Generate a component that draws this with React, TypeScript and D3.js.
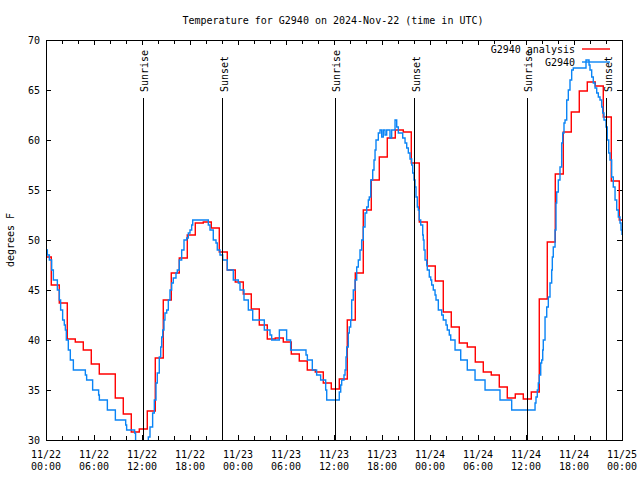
import React from "react";
import * as d3 from "d3";

const titleText = "Temperature for G2940 on 2024-Nov-22 (time in UTC)";
const yAxisLabel = "degrees F";
const redName = "G2940 analysis";
const blueName = "G2940";

// x axis: hours since 11/22 00:00 UTC
const xTickHours = [0, 6, 12, 18, 24, 30, 36, 42, 48, 54, 60, 66, 72];
const xTickDates = ["11/22", "11/22", "11/22", "11/22", "11/23", "11/23", "11/23", "11/23", "11/24", "11/24", "11/24", "11/24", "11/25"];
const xTickTimes = ["00:00", "06:00", "12:00", "18:00", "00:00", "06:00", "12:00", "18:00", "00:00", "06:00", "12:00", "18:00", "00:00"];
const yTickValues = [30, 35, 40, 45, 50, 55, 60, 65, 70];

const sunriseHours = [12.13, 36.13, 60.13];
const sunsetHours = [22.1, 46.1, 70.1];

// analysis: hourly values, each step starts at (index + redStepOffset) hours
const redStepOffset = -0.34;
const redHourly = [
  48.3, 45.5, 43.7, 40.1, 39.8, 39.0, 37.6, 36.6, 36.6, 34.2, 32.6, 30.8,
  31.1, 32.9, 38.2, 44.0, 46.7, 48.2, 50.5, 51.7, 51.8, 51.2, 48.8, 47.0,
  45.8, 44.6, 43.1, 41.5, 40.1, 40.2, 39.8, 38.6, 37.9, 37.0, 36.8, 35.7,
  35.1, 36.1, 42.0, 46.7, 53.0, 56.0, 58.3, 60.2, 61.0, 60.8, 57.7, 51.8,
  47.4, 45.9, 42.8, 41.3, 39.7, 39.3, 37.8, 36.8, 36.5, 35.3, 34.2, 34.6,
  34.1, 34.8, 44.1, 49.8, 56.6, 60.8, 62.8, 64.9, 65.8, 65.4, 62.3, 55.9,
  52.0,
];

// observations: [hour, temperature] step points
const blueObs: [number, number][] = [
  [0, 49], [0.17, 48.5], [0.42, 48], [0.71, 47], [0.92, 46], [1.42, 45], [1.67, 44], [1.83, 43],
  [2.08, 42], [2.29, 41.5], [2.42, 41], [2.54, 40], [2.79, 39], [3.04, 38], [3.42, 37], [4.92, 36.5],
  [5.08, 36], [5.83, 35], [6.58, 34.5], [6.67, 34], [7.67, 33], [8.67, 32], [9.96, 31.5], [10.08, 31],
  [11.08, 30.7], [11.2, 29.5],
  [12.79, 30.3], [13.0, 31.3], [13.33, 32.7], [13.54, 34], [13.75, 35.7], [13.91, 36.7], [14.16, 38.3],
  [14.34, 39.3], [14.46, 40.3], [14.59, 41], [14.75, 42], [14.87, 42.7], [15.09, 43], [15.29, 44],
  [15.5, 45], [15.71, 45.7], [15.91, 46.2], [16.25, 46.7], [16.41, 47], [16.66, 48], [16.96, 49],
  [17.25, 50], [17.59, 50.2], [17.79, 50.7], [18.0, 51], [18.21, 51.5], [18.34, 52], [20.29, 51.5],
  [20.5, 51], [20.91, 50], [21.25, 49.7], [21.41, 49], [21.75, 48.5], [22.09, 48], [22.66, 47], [23.41, 46],
  [24.04, 45.7], [24.25, 45], [24.75, 44], [25.29, 43], [25.84, 42], [27.29, 41], [28.0, 40.5], [28.21, 40],
  [29.17, 41], [30.08, 40], [30.58, 39], [32.5, 38.5], [32.67, 38], [33.29, 37], [33.83, 36.5], [34.33, 36],
  [34.96, 35], [35.09, 34],
  [36.66, 34.8], [36.84, 35.5], [36.96, 36], [37.25, 36.5], [37.38, 37], [37.5, 38.3], [37.59, 39.3],
  [37.79, 40.7], [37.91, 41.3], [38.09, 42], [38.21, 44], [38.41, 45], [38.63, 46], [38.84, 47.3],
  [39.04, 48], [39.25, 49], [39.46, 50], [39.66, 51.3], [39.88, 52.7], [40.09, 53.3], [40.29, 54],
  [40.41, 54.3], [40.59, 56], [40.84, 57], [41.0, 58], [41.13, 59], [41.25, 60], [41.54, 60.7],
  [41.75, 61], [41.96, 60.3], [42.16, 61], [42.38, 60.5], [42.59, 61], [43.0, 60.2], [43.21, 61],
  [43.63, 62], [43.84, 61.3], [44.04, 60.7], [44.59, 60.2], [44.88, 59.7], [45.09, 59.2], [45.29, 58.7],
  [45.5, 58.1], [45.71, 57.5], [45.84, 56.7], [46.0, 56], [46.13, 55.3], [46.25, 54.3], [46.41, 53.3],
  [46.54, 53], [46.66, 52], [46.84, 51.5], [47.09, 50.5], [47.16, 50], [47.25, 49], [47.38, 48],
  [47.59, 47.5], [47.66, 47], [47.91, 46.3], [48.09, 46], [48.21, 45.5], [48.41, 45], [48.63, 44.5],
  [48.75, 44], [49.04, 43], [49.46, 42.5], [49.66, 42], [50.0, 41.5], [50.16, 41], [50.41, 40.5],
  [50.59, 40], [51.13, 39], [51.84, 38], [52.66, 37], [53.63, 36], [54.88, 35], [56.75, 34], [58.21, 33],
  [61.13, 33.7], [61.25, 34.3], [61.41, 35], [61.54, 35.7], [61.66, 36.5], [61.84, 37.7], [61.96, 38],
  [62.09, 39], [62.16, 40], [62.38, 42.3], [62.59, 43.3], [62.79, 44.3], [63.0, 45.7], [63.21, 47],
  [63.29, 48.3], [63.41, 49.3], [63.63, 51], [63.75, 53.7], [63.84, 54.8], [64.04, 56], [64.25, 57.3],
  [64.46, 59.7], [64.59, 60.7], [64.75, 61.7], [64.88, 62], [65.09, 64], [65.29, 65], [65.5, 66],
  [65.71, 67], [65.91, 67.2], [67.5, 68], [67.88, 67.5], [68.0, 67], [68.21, 66.3], [68.41, 65.7],
  [68.63, 65.2], [68.84, 64.7], [69.04, 64.3], [69.25, 64], [69.46, 63.3], [69.59, 62.7], [69.75, 62],
  [70.0, 61.3], [70.16, 60], [70.34, 58.7], [70.5, 58], [70.71, 56.3], [70.91, 55.3], [71.13, 54],
  [71.34, 53], [71.54, 52.3], [71.75, 51.7], [71.88, 51], [72, 50.5],
];

const RED = "#ff0000";
const BLUE = "#0a84f5";
const FONT = "'DejaVu Sans Mono', 'Liberation Mono', monospace";

export default function App() {
  const W = 640;
  const H = 480;
  const L = 46, R = 622, T = 40, B = 440;
  const x = d3.scaleLinear().domain([0, 72]).range([L, R]);
  const y = d3.scaleLinear().domain([30, 70]).range([B, T]);

  const redPts: [number, number][] = redHourly.map((v, i) => [i + redStepOffset, v]);
  redPts.push([redHourly.length + redStepOffset, redHourly[redHourly.length - 1]]);

  const line = d3
    .line<[number, number]>()
    .x((d) => x(d[0]))
    .y((d) => y(d[1]))
    .curve(d3.curveStepAfter);

  const minorTicks = d3.range(0, 73, 2);
  const fs = 10;

  return (
    <svg
      width={W}
      height={H}
      style={{ position: "absolute", left: 0, top: 0, background: "#fff" }}
      fontFamily={FONT}
      fontSize={fs}
    >
      <rect x={0} y={0} width={W} height={H} fill="#fff" />
      <defs>
        <clipPath id="plotclip">
          <rect x={L} y={T} width={R - L} height={B - T} />
        </clipPath>
      </defs>

      {/* title */}
      <text x={333} y={24} textAnchor="middle">{titleText}</text>

      {/* y label */}
      <text
        transform={`translate(10,${(T + B) / 2}) rotate(-90)`}
        textAnchor="middle"
        dominantBaseline="central"
      >
        {yAxisLabel}
      </text>

      {/* ticks */}
      <g stroke="#000" strokeWidth={1} shapeRendering="crispEdges">
        {yTickValues.map((v) => (
          <g key={"yt" + v}>
            <line x1={L} x2={L + 5} y1={y(v)} y2={y(v)} />
            <line x1={R} x2={R - 5} y1={y(v)} y2={y(v)} />
          </g>
        ))}
        {minorTicks.map((h) => {
          const len = h % 6 === 0 ? 5 : 4;
          return (
            <g key={"xt" + h}>
              <line x1={x(h)} x2={x(h)} y1={B} y2={B - len} />
              <line x1={x(h)} x2={x(h)} y1={T} y2={T + len} />
            </g>
          );
        })}
      </g>

      {/* y tick labels */}
      {yTickValues.map((v) => (
        <text key={"yl" + v} x={40} y={y(v) + 3.5} textAnchor="end">
          {v}
        </text>
      ))}

      {/* x tick labels */}
      {xTickHours.map((h, i) => (
        <g key={"xl" + h}>
          <text x={x(h)} y={458} textAnchor="middle">{xTickDates[i]}</text>
          <text x={x(h)} y={470} textAnchor="middle">{xTickTimes[i]}</text>
        </g>
      ))}

      {/* data */}
      <g clipPath="url(#plotclip)" fill="none" strokeLinejoin="miter">
        <path d={line(redPts) || ""} stroke={RED} strokeWidth={1.4} />
        <path d={line(blueObs) || ""} stroke={BLUE} strokeWidth={1.4} />
      </g>

      {/* sunrise / sunset markers */}
      {sunriseHours.map((h) => (
        <g key={"sr" + h}>
          <line x1={x(h)} x2={x(h)} y1={B} y2={98} stroke="#000" strokeWidth={1} shapeRendering="crispEdges" />
          <text
            transform={`translate(${x(h) + 1.5},92) rotate(-90)`}
            textAnchor="start"
            dominantBaseline="central"
          >
            Sunrise
          </text>
        </g>
      ))}
      {sunsetHours.map((h) => (
        <g key={"ss" + h}>
          <line x1={x(h)} x2={x(h)} y1={B} y2={98} stroke="#000" strokeWidth={1} shapeRendering="crispEdges" />
          <text
            transform={`translate(${x(h) + 1.5},92) rotate(-90)`}
            textAnchor="start"
            dominantBaseline="central"
          >
            Sunset
          </text>
        </g>
      ))}

      {/* legend */}
      <text x={575} y={49} textAnchor="end" dominantBaseline="central">{redName}</text>
      <line x1={582} x2={610} y1={49} y2={49} stroke={RED} strokeWidth={1.4} />
      <text x={575} y={62} textAnchor="end" dominantBaseline="central">{blueName}</text>
      <line x1={582} x2={610} y1={62} y2={62} stroke={BLUE} strokeWidth={1.4} />

      {/* frame */}
      <rect
        x={L}
        y={T}
        width={R - L}
        height={B - T}
        fill="none"
        stroke="#000"
        strokeWidth={1}
        shapeRendering="crispEdges"
      />
    </svg>
  );
}
